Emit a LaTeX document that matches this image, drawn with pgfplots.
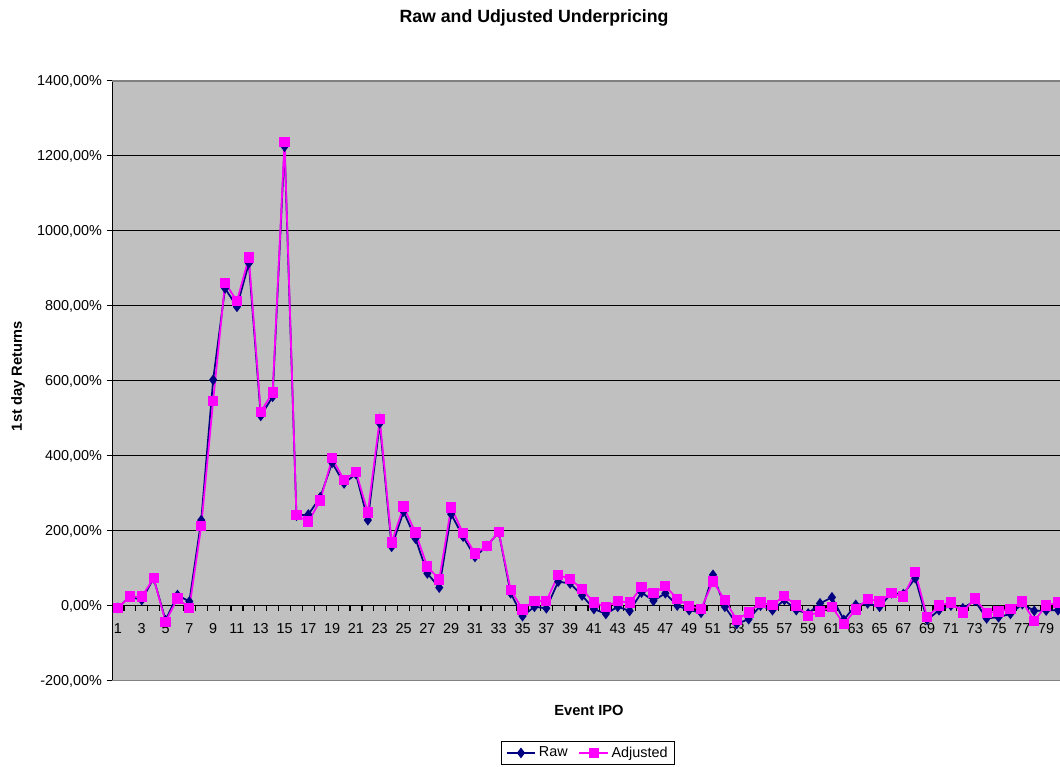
\documentclass[border=0pt]{standalone}
\usepackage{pgfplots}
\pgfplotsset{compat=1.18}
\usepackage{fontspec}
\setmainfont{Liberation Sans}
\definecolor{rawblue}{RGB}{0,0,128}
\definecolor{adjmag}{RGB}{255,0,255}
\definecolor{areagray}{RGB}{192,192,192}
\definecolor{framegray}{RGB}{128,128,128}

\pgfplotstableread{
ipo raw adj
1 -5 -5
2 25 25
3 16 25
4 74 74
5 -38 -42
6 29 20
7 12 -5
8 229 213
9 603 547
10 847 862
11 798 813
12 914 929
13 507 518
14 558 569
15 1225 1238
16 241 242
17 244 225
18 290 281
19 382 394
20 327 336
21 352 358
22 229 249
23 487 498
24 158 169
25 252 265
26 180 196
27 87 105
28 49 71
29 245 263
30 185 194
31 131 140
32 160 160
33 197 197
34 34 43
35 -27 -9
36 -2 14
37 -6 13
38 65 83
39 60 72
40 28 45
41 -8 9
42 -21 -2
43 -2 13
44 -13 9
45 36 50
46 14 34
47 34 53
48 1 19
49 -11 0
50 -18 -8
51 83 65
52 -2 16
53 -48 -37
54 -35 -17
55 1 9
56 -11 3
57 16 27
58 -11 1
59 -20 -26
60 7 -15
61 23 -2
62 -37 -48
63 3 -9
64 7 19
65 -2 12
66 34 34
67 32 25
68 74 90
69 -37 -30
70 -11 1
71 1 9
72 -6 -17
73 14 20
74 -33 -18
75 -30 -15
76 -21 -8
77 5 12
78 -13 -40
79 -12 1
80 -11 9
}\ipodata

\begin{document}
\begin{tikzpicture}
% 1 px of the reference = 0.75pt
\path[use as bounding box] (0,0) rectangle (795pt,575.25pt);

\node[font=\bfseries\fontsize{13.3}{16}\selectfont] at (400.5pt,561.75pt) {Raw and Udjusted Underpricing};
\node[font=\bfseries\fontsize{11}{13}\selectfont] at (441.75pt,42.75pt) {Event IPO};
\node[font=\bfseries\fontsize{11}{13}\selectfont, rotate=90] at (13.5pt,293.25pt) {1st day Returns};

\begin{axis}[
    at={(84pt,64.5pt)}, anchor=south west,
    scale only axis,
    width=714pt, height=450pt,
    xmin=0.5, xmax=80.5,
    ymin=-200, ymax=1400,
    axis x line=middle,
    axis y line=left,
    axis line style={-, black, line width=0.75pt},
    axis background/.style={fill=areagray},
    xtick={1,3,...,79},
    xtick style={draw=none},
    xticklabel style={yshift=-7.5pt},
    ytick={-200,0,...,1400},
    yticklabels={{-200,00\%},{0,00\%},{200,00\%},{400,00\%},{600,00\%},{800,00\%},{1000,00\%},{1200,00\%},{1400,00\%}},
    ytick align=outside,
    major tick length=4pt,
    tick style={black, line width=0.75pt},
    /pgf/number format/assume math mode=true,
    ticklabel style={font=\fontsize{10.8}{12}\selectfont},
    ymajorgrids,
    grid style={black, line width=0.75pt},
    legend style={at={(0.5,-0.1)}, anchor=north, legend columns=2,
        draw=black, fill=white, line width=0.6pt,
        font=\fontsize{10.8}{12}\selectfont,
        /tikz/every even column/.append style={column sep=6pt}},
    legend image code/.code={
        \draw[mark repeat=2,mark phase=2] plot coordinates {(0cm,0cm) (0.38cm,0cm) (0.76cm,0cm)};},
]
\draw[framegray, line width=1.2pt] (rel axis cs:0,1) -- (rel axis cs:1,1);
\draw[framegray, line width=1.2pt] (rel axis cs:0,0) -- (rel axis cs:1,0);
% category boundary ticks below the zero line
\pgfplotsinvokeforeach{0,...,80}{
    \draw[black, line width=0.9pt] (axis cs:#1.5,0) -- (axis cs:#1.5,-13);
}
\addplot[rawblue, line width=1.3pt, mark=diamond*, mark size=3pt, mark options={solid}] table[x=ipo, y=raw] {\ipodata};
\addplot[adjmag, line width=1.3pt, mark=square*, mark size=3.2pt, mark options={solid}] table[x=ipo, y=adj] {\ipodata};
\legend{Raw, Adjusted}
\end{axis}
\end{tikzpicture}
\end{document}
